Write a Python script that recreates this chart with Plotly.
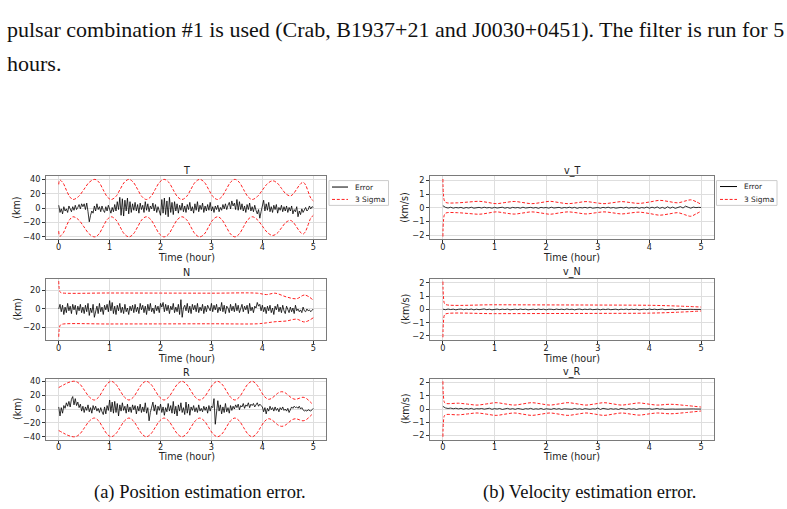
import numpy as np
import plotly.graph_objects as go

W, H = 787, 509

# ---------------- data ----------------
t_pos = np.linspace(0, 5, 201)
t_vel = np.linspace(0, 5, 101)

err_T = [4, -6, -1, -8, 2, -4, -1, -6, 3, -2, -5, 2, -3, 4, -2, 1, 5, -1, 6, 2,
         6, -2, 7, -5, -19, -10, -4, -7, 3, -4, 6, -2, 2, -5, 3, -3, -6, 2, -4, 4,
         -3, -7, 1, -5, 5, -4, 9, -2, 15, -10, 13, -11, 11, -4, 14, -8, 9, -6, 6, -3,
         8, -4, 5, -7, 7, -2, 4, -6, 9, -3, 6, -5, 3, -1, 7, -4, 5, -6, 2, -3,
         -10, 12, -7, 14, -9, 10, -12, 15, -6, 8, -9, 9, -4, 6, -7, 4, -3, 7, -5, 3,
         -6, 5, -2, 8, -4, 2, -7, 6, -3, 9, -5, 4, -2, 7, -6, 3, -4, 5, -3, 8,
         -4, 2, -6, 3, -2, 4, -5, 1, -3, 5, -1, 6, -2, 4, 8, -1, 10, 3, 7, -2,
         12, -3, 9, -2, 6, -4, 3, -6, 5, -2, 7, -4, 2, -5, 4, -3, -8, -2, -14, -5,
         3, 11, -4, 6, -3, 8, -5, 2, -6, 4, -2, 5, -7, 1, -3, 4, -5, 2, -4, 3,
         -6, 1, -4, 3, -8, -2, -5, 2, -12, -4, -9, -1, -6, -3, 1, -4, -2, 3, -1, 2, 1]

err_N = [0, 5, -3, 4, -6, 2, -4, 6, -2, 3, -5, 5, -1, 4, -6, 3, -2, 5, -4, 2,
         -5, 4, -3, 6, -7, 1, -4, 5, -9, -2, 3, -5, 6, -3, 2, -6, 4, -1, 5, -3,
         9, -2, 7, -5, 3, -6, 4, -2, 6, -4, 2, -5, 5, -3, 1, -6, 3, -2, 4, -4,
         5, -3, 2, -5, 6, -1, 4, -4, 3, -6, 5, -2, 6, -3, 1, -5, 4, -2, 3, -4,
         6, 2, 7, -3, 5, -2, 4, -5, 3, -1, 6, -4, 2, -3, 5, -6, 10, -9, 1, 4,
         -2, 6, -4, 3, -5, 5, -1, 4, -3, 6, -4, 2, -2, 5, -5, 3, -3, 4, 1, -2,
         6, -3, 4, -1, 5, -4, 2, -2, 7, -3, 4, -5, 3, 1, -4, 5, -2, 3, -3, 6,
         -2, 4, -4, 2, 5, -3, 3, -1, 4, -5, 6, -2, 2, -4, 3, 1, 7, 3, 5, -2,
         4, -3, 2, -5, 3, -2, 4, -4, 1, -6, 3, -1, 5, -3, 2, -4, 4, -2, -5, 3,
         -1, -4, 2, -3, 1, -5, 4, -2, 0, -3, -1, -4, 2, -2, -3, 0, -2, -1, -3, -1, 0]

err_R = [3, -10, 2, -6, 5, 1, 9, 4, 11, 3, 14, 18, 6, 15, 5, 10, 2, 7, -3, 4,
         -5, 3, -2, 6, -4, 2, -6, 5, -1, 4, -3, 1, -5, 2, -4, -8, 3, -7, 5, -2,
         13, -4, 10, -6, 11, -5, 8, -10, 6, -3, 9, -2, 4, -6, 7, -4, 3, -5, 6, -1,
         5, -7, 4, -3, 7, -5, 3, -4, 9, -6, 2, -17, -5, 3, 10, -3, 6, -8, 4, -2,
         7, -5, 3, -9, 2, -4, 8, -3, 5, -6, 11, -7, 4, -10, 6, -3, 9, -5, 2, -8,
         10, -6, 7, -9, 3, -2, 5, -4, 2, -5, 6, -3, 1, -4, 4, -2, 3, -6, 5, -3,
         4, 2, 15, -22, -8, 12, -3, 6, -7, 3, -5, 8, -4, 2, -6, 5, -2, 4, 0, 6,
         2, 7, -1, 5, 3, 8, 1, 6, 4, 9, 2, 7, 5, 8, 3, 6, 9, 4, 7, 5,
         3, -4, 2, -7, 1, -3, 4, -1, 2, -3, 3, -2, 1, -4, 2, -1, 3, -2, 0, -3,
         1, -5, -2, 3, 1, 4, 2, 3, 1, 4, 0, 2, -1, -3, -2, -3, -1, -2, -3, -1, 1]

err_vT = [0.15, 0.03, -0.02, 0.04, -0.03, 0.02, -0.01, 0.03, -0.04, 0.02,
          -0.02, 0.04, -0.03, 0.01, 0.03, -0.02, 0.04, -0.01, 0.02, -0.03,
          0.03, -0.02, 0.01, 0.04, -0.03, 0.02, -0.04, 0.03, -0.01, 0.02,
          -0.03, 0.04, -0.02, 0.01, 0.03, -0.02, 0.02, -0.04, 0.03, -0.01,
          0.02, -0.03, 0.04, -0.02, 0.01, 0.03, -0.03, 0.02, -0.01, 0.04,
          -0.02, 0.03, -0.04, 0.02, -0.01, 0.03, -0.02, 0.04, -0.03, 0.01,
          0.02, -0.03, 0.03, -0.01, 0.04, -0.02, 0.02, -0.03, 0.01, 0.03,
          -0.02, 0.04, -0.03, 0.02, -0.01, 0.03, -0.04, 0.02, -0.02, 0.05,
          -0.03, 0.04, -0.02, 0.06, -0.04, 0.03, -0.05, 0.07, -0.03, 0.05,
          -0.04, 0.03, 0.08, -0.02, 0.12, 0.04, -0.03, 0.05, 0.01, 0.03, 0.02]

err_vN = [0.02, -0.02, 0.03, -0.01, 0.02, -0.03, 0.01, 0.03, -0.02, 0.02,
          -0.01, 0.03, -0.03, 0.02, -0.02, 0.01, 0.04, -0.02, 0.02, -0.03,
          0.01, 0.03, -0.02, 0.02, -0.01, 0.03, -0.03, 0.01, 0.02, -0.02,
          0.03, -0.01, 0.02, -0.03, 0.01, 0.02, -0.02, 0.03, -0.01, 0.02,
          -0.03, 0.02, 0.01, -0.02, 0.03, -0.01, 0.02, -0.02, 0.04, -0.01,
          0.02, -0.03, 0.01, 0.03, -0.02, 0.02, -0.01, 0.03, -0.02, 0.01,
          0.02, -0.03, 0.02, -0.01, 0.03, -0.02, 0.01, 0.02, -0.03, 0.02,
          -0.01, 0.03, -0.02, 0.02, -0.01, 0.02, -0.03, 0.01, 0.02, -0.02,
          0.03, -0.01, 0.02, -0.02, 0.01, 0.03, -0.02, 0.01, -0.01, 0.02,
          -0.02, 0.01, 0.02, -0.01, 0.01, -0.02, 0.01, 0.00, -0.01, 0.01, 0.00]

err_vR = [0.20, 0.08, 0.04, 0.07, 0.02, 0.06, 0.01, 0.05, -0.01, 0.04,
          0.00, 0.05, -0.02, 0.03, 0.01, 0.04, -0.01, 0.03, 0.06, -0.02,
          0.03, 0.00, 0.04, -0.03, 0.02, 0.05, -0.01, 0.03, -0.02, 0.04,
          0.01, -0.03, 0.03, 0.00, 0.05, -0.02, 0.02, -0.01, 0.04, -0.03,
          0.02, 0.01, -0.02, 0.04, -0.01, 0.03, -0.03, 0.02, 0.00, 0.03,
          -0.02, 0.04, -0.01, 0.02, -0.03, 0.03, 0.01, -0.02, 0.02, 0.00,
          0.07, -0.03, 0.05, 0.01, -0.02, 0.03, -0.01, 0.02, -0.03, 0.04,
          0.00, -0.02, 0.03, -0.01, 0.02, -0.03, 0.02, 0.00, -0.02, 0.01,
          0.03, -0.02, 0.01, 0.04, -0.01, 0.02, -0.02, 0.00, -0.01, 0.00,
          -0.01, 0.00, -0.01, 0.00, 0.01, -0.01, 0.00, 0.01, 0.00, -0.01, 0.00]

# 3-sigma envelopes
sT_t = [0, 0.02, 0.085, 0.15, 0.215, 0.28, 0.387, 0.495, 0.60, 0.71, 0.79, 0.87, 0.95, 1.03,
        1.12, 1.205, 1.29, 1.38, 1.465, 1.55, 1.635, 1.72, 1.81, 1.895, 1.98, 2.07,
        2.16, 2.245, 2.33, 2.42, 2.51, 2.595, 2.68, 2.77, 2.86, 2.945, 3.03, 3.12,
        3.205, 3.29, 3.375, 3.46, 3.545, 3.63, 3.715, 3.80, 3.9, 4.0, 4.1, 4.2,
        4.29, 4.375, 4.46, 4.55, 4.61, 4.675, 4.74, 4.8, 4.85, 4.9, 4.95, 5.0]
sT_up = [33, 39, 35, 25, 16, 12, 16, 26, 36, 40, 36, 26, 16, 12,
         16, 26, 36, 40, 36, 26, 16, 12, 16, 26, 36, 40,
         36, 26, 16, 12, 16, 26, 36, 40, 36, 26, 16, 12,
         16, 26, 36, 40, 36, 26, 16, 12, 16, 25, 34, 38,
         35, 27.5, 20, 17, 20, 26.5, 33, 36, 32, 23, 14, 10]
sT_lo = [-32, -39, -35, -25, -16, -12, -16, -26, -36, -40, -36, -26, -16, -12,
         -16, -26, -36, -40, -36, -26, -16, -12, -16, -26, -36, -40,
         -36, -26, -16, -12, -16, -26, -36, -40, -36, -26, -16, -12,
         -16, -26, -36, -40, -36, -26, -16, -12, -16, -25, -34, -38,
         -35, -27.5, -20, -17, -20, -26.5, -33, -36, -32, -23, -14, -10]

sN_t = [0, 0.01, 0.03, 0.06, 1.0, 2.0, 3.0, 3.9, 4.08, 4.25, 4.47, 4.67, 4.83, 5.0]
sN_up = [30, 22, 18, 17.3, 17.2, 17.1, 17.0, 17.0, 15.5, 17.0, 13, 11, 15, 9.5]
sN_lo = [-30, -22, -17.5, -16.5, -16.2, -16.1, -16.0, -16.0, -15.0, -13.8, -13.0, -11.0, -14.0, -9.5]

sR_t = [0, 0.1, 0.2, 0.32, 0.415, 0.51, 0.605, 0.70, 0.783, 0.865, 0.948, 1.03,
        1.118, 1.205, 1.293, 1.38, 1.465, 1.55, 1.635, 1.72, 1.808, 1.895, 1.983, 2.07,
        2.158, 2.245, 2.333, 2.42, 2.508, 2.595, 2.683, 2.77, 2.858, 2.945, 3.033, 3.12,
        3.205, 3.29, 3.375, 3.46, 3.545, 3.63, 3.715, 3.80, 3.88, 3.96, 4.04, 4.12,
        4.185, 4.25, 4.315, 4.38, 4.448, 4.515, 4.583, 4.65, 4.725, 4.8, 4.87, 4.93, 5.0]
sR_up = [31, 35, 38.5, 40, 36, 26.5, 17, 13, 17, 26.5, 36, 40,
         36, 26.5, 17, 13, 17, 26.5, 36, 40, 36, 26.5, 17, 13,
         17, 26.5, 36, 40, 36, 26.5, 17, 13, 17, 26.5, 36, 40,
         36, 26.5, 17, 13, 17, 26.5, 36, 40, 36, 27, 18, 14,
         15.6, 19.5, 23.4, 25, 23.4, 19.5, 15.6, 14, 15.5, 17, 15, 11, 6]
sR_lo = [-31, -35, -38.5, -40, -36, -26.5, -17, -13, -17, -26.5, -36, -40,
         -36, -26.5, -17, -13, -17, -26.5, -36, -40, -36, -26.5, -17, -13,
         -17, -26.5, -36, -40, -36, -26.5, -17, -13, -17, -26.5, -36, -40,
         -36, -26.5, -17, -13, -17, -26.5, -36, -40, -36, -27, -18, -14,
         -15.6, -19.5, -23.4, -25, -23.4, -19.5, -15.6, -14, -15.5, -17, -15, -11, -6]

svT_t = [0, 0.01, 0.03, 0.06, 0.28, 0.5, 0.71, 0.87, 1.03, 1.2, 1.38, 1.55, 1.72, 1.9, 2.07, 2.25,
         2.42, 2.6, 2.77, 2.95, 3.12, 3.29, 3.46, 3.63, 3.8, 4.0, 4.2, 4.38, 4.55, 4.68, 4.8, 4.9, 5.0]
svT_up = [2.1, 1.0, 0.5, 0.38, 0.36, 0.42, 0.47, 0.39, 0.3, 0.38, 0.46, 0.38, 0.3, 0.38, 0.47, 0.38,
          0.3, 0.37, 0.45, 0.37, 0.3, 0.37, 0.45, 0.38, 0.32, 0.42, 0.54, 0.45, 0.36, 0.48, 0.58, 0.45, 0.25]
svT_lo = [-2.1, -1.0, -0.5, -0.38, -0.36, -0.42, -0.47, -0.39, -0.3, -0.38, -0.46, -0.38, -0.3, -0.38, -0.47, -0.38,
          -0.3, -0.37, -0.45, -0.37, -0.3, -0.37, -0.45, -0.38, -0.32, -0.42, -0.54, -0.45, -0.36, -0.5, -0.62, -0.45, -0.25]

svN_t = [0, 0.01, 0.03, 0.06, 1.0, 2.0, 3.0, 4.0, 4.5, 5.0]
svN_up = [2.1, 1.0, 0.45, 0.36, 0.35, 0.34, 0.33, 0.31, 0.26, 0.18]
svN_lo = [-2.1, -1.0, -0.42, -0.33, -0.32, -0.31, -0.30, -0.28, -0.22, -0.12]

svR_t = [0, 0.01, 0.03, 0.06, 0.3, 0.48, 0.66, 0.85, 1.03, 1.2, 1.38, 1.55, 1.72, 1.9, 2.07,
         2.25, 2.42, 2.6, 2.77, 2.95, 3.12, 3.29, 3.46, 3.63, 3.8, 3.97, 4.15, 4.4, 4.7, 5.0]
svR_up = [2.1, 1.0, 0.5, 0.42, 0.44, 0.37, 0.3, 0.39, 0.48, 0.39, 0.3, 0.39, 0.48, 0.39, 0.3,
          0.39, 0.48, 0.39, 0.3, 0.39, 0.48, 0.39, 0.3, 0.38, 0.46, 0.38, 0.3, 0.36, 0.27, 0.15]
svR_lo = [-2.1, -1.0, -0.5, -0.42, -0.44, -0.37, -0.3, -0.39, -0.48, -0.39, -0.3, -0.39, -0.48, -0.39, -0.3,
          -0.39, -0.48, -0.39, -0.3, -0.39, -0.48, -0.39, -0.3, -0.38, -0.46, -0.38, -0.3, -0.36, -0.27, -0.15]

x_ticks = [0, 1, 2, 3, 4, 5]
titles = ["T", "N", "R", "v_T", "v_N", "v_R"]
legend_labels = ["Error", "3 Sigma"]

# ---------------- layout helpers ----------------
def px(x):
    return x / W

def py(y):
    return 1 - y / H

LEFT = [px(46), px(326)]
RIGHT = [px(430), px(714)]
ROWS = [(175.5, 239.3), (279, 340.7), (379.5, 441)]
TITLE_Y = {(0, 0): 170, (0, 1): 273, (0, 2): 373, (1, 0): 170.5, (1, 1): 272, (1, 2): 373}
XLAB_Y = [257.5, 359.5, 458.5]
YLAB_X = [17, 405]

panels = [
    dict(t=t_pos, e=err_T, st=sT_t, su=sT_up, sl=sT_lo, yr=[-43.5, 44.5], yt=[-40, -20, 0, 20, 40], col=0, row=0, unit="(km)"),
    dict(t=t_pos, e=err_N, st=sN_t, su=sN_up, sl=sN_lo, yr=[-33.5, 32.5], yt=[-20, 0, 20], col=0, row=1, unit="(km)"),
    dict(t=t_pos, e=err_R, st=sR_t, su=sR_up, sl=sR_lo, yr=[-44, 44], yt=[-40, -20, 0, 20, 40], col=0, row=2, unit="(km)"),
    dict(t=t_vel, e=err_vT, st=svT_t, su=svT_up, sl=svT_lo, yr=[-2.31, 2.31], yt=[-2, -1, 0, 1, 2], col=1, row=0, unit="(km/s)"),
    dict(t=t_vel, e=err_vN, st=svN_t, su=svN_up, sl=svN_lo, yr=[-2.31, 2.31], yt=[-2, -1, 0, 1, 2], col=1, row=1, unit="(km/s)"),
    dict(t=t_vel, e=err_vR, st=svR_t, su=svR_up, sl=svR_lo, yr=[-2.31, 2.31], yt=[-2, -1, 0, 1, 2], col=1, row=2, unit="(km/s)"),
]

AX_FONT = "DejaVu Sans, Verdana, sans-serif"
TXT = "#222"
RED = "#ff2020"
DASH = "3px,1.8px"
fig = go.Figure()
annotations = []
shapes = []

for i, p in enumerate(panels):
    n = i + 1
    xa = "x" if n == 1 else f"x{n}"
    ya = "y" if n == 1 else f"y{n}"
    fig.add_trace(go.Scatter(x=p["t"], y=p["e"], mode="lines", name=legend_labels[0],
                             line=dict(color="black", width=0.8), xaxis=xa, yaxis=ya, showlegend=False))
    for key in ("su", "sl"):
        fig.add_trace(go.Scatter(x=p["st"], y=p[key], mode="lines", name=legend_labels[1],
                                 line=dict(color=RED, width=1, dash=DASH, shape="spline", smoothing=1.0),
                                 xaxis=xa, yaxis=ya, showlegend=False))
    top, bot = ROWS[p["row"]]
    dom_x = LEFT if p["col"] == 0 else RIGHT
    dom_y = [py(bot), py(top)]
    common = dict(showline=True, mirror=True, linecolor="#7a7a7a", linewidth=1,
                  showgrid=True, gridcolor="#dedede", gridwidth=1, zeroline=False,
                  ticks="outside", ticklen=3, tickwidth=0.8, tickcolor="#333",
                  tickfont=dict(family=AX_FONT, size=8.2, color=TXT))
    fig.update_layout(**{
        ("xaxis" if n == 1 else f"xaxis{n}"): dict(
            domain=dom_x, anchor=ya, range=[-0.25, 5.25], tickvals=x_ticks,
            ticklabelstandoff=-3, **common),
        ("yaxis" if n == 1 else f"yaxis{n}"): dict(
            domain=dom_y, anchor=xa, range=p["yr"], tickvals=p["yt"], **common),
    })
    xc = (dom_x[0] + dom_x[1]) / 2
    annotations.append(dict(text=titles[i], x=xc, y=py(TITLE_Y[(p["col"], p["row"])]),
                            xanchor="center", yanchor="middle",
                            font=dict(family=AX_FONT, size=9.6, color=TXT)))
    annotations.append(dict(text="Time (hour)", x=xc, y=py(XLAB_Y[p["row"]]),
                            xanchor="center", yanchor="middle",
                            font=dict(family=AX_FONT, size=9.6, color=TXT)))
    annotations.append(dict(text=p["unit"], x=px(YLAB_X[p["col"]]), y=py((top + bot) / 2),
                            xanchor="center", yanchor="middle", textangle=-90,
                            font=dict(family=AX_FONT, size=9.6, color=TXT)))

# legends (drawn as a framed box with sample lines, like matplotlib)
for (bx0, by0, bx1, by1, lx0, lx1, tx, y1, y2) in [
        (329, 180, 388.5, 205, 332, 348, 353, 186.5, 199),
        (716.5, 180, 777, 205, 720, 737, 742, 186, 199)]:
    shapes.append(dict(type="rect", xref="paper", yref="paper", x0=px(bx0), x1=px(bx1), y0=py(by1), y1=py(by0),
                       line=dict(color="#cccccc", width=1), fillcolor="white"))
    shapes.append(dict(type="line", xref="paper", yref="paper", x0=px(lx0), x1=px(lx1), y0=py(y1), y1=py(y1),
                       line=dict(color="black", width=1)))
    shapes.append(dict(type="line", xref="paper", yref="paper", x0=px(lx0), x1=px(lx1), y0=py(y2), y1=py(y2),
                       line=dict(color=RED, width=1, dash=DASH)))
    annotations.append(dict(text=legend_labels[0], x=px(tx), y=py(y1), xanchor="left", yanchor="middle",
                            font=dict(family=AX_FONT, size=7.4, color=TXT)))
    annotations.append(dict(text=legend_labels[1], x=px(tx), y=py(y2), xanchor="left", yanchor="middle",
                            font=dict(family=AX_FONT, size=7.4, color=TXT)))

SERIF = "Liberation Serif, Times New Roman, serif"
annotations += [
    dict(text="pulsar combination #1 is used (Crab, B1937+21 and J0030+0451). The filter is run for 5",
         x=px(5), y=py(28), xanchor="left", yanchor="middle", font=dict(family=SERIF, size=22, color="#111")),
    dict(text="hours.", x=px(5), y=py(62), xanchor="left", yanchor="middle",
         font=dict(family=SERIF, size=22, color="#111")),
    dict(text="(a) Position estimation error.", x=px(200), y=py(494), xanchor="center", yanchor="middle",
         font=dict(family=SERIF, size=18.5, color="#111")),
    dict(text="(b) Velocity estimation error.", x=px(589), y=py(494), xanchor="center", yanchor="middle",
         font=dict(family=SERIF, size=18.5, color="#111")),
]
for a in annotations:
    a.setdefault("xref", "paper")
    a.setdefault("yref", "paper")
    a.setdefault("showarrow", False)

fig.update_layout(
    width=W, height=H, margin=dict(l=0, r=0, t=0, b=0),
    paper_bgcolor="white", plot_bgcolor="white",
    annotations=annotations, shapes=shapes, showlegend=False,
)

fig.write_html("out.html")
